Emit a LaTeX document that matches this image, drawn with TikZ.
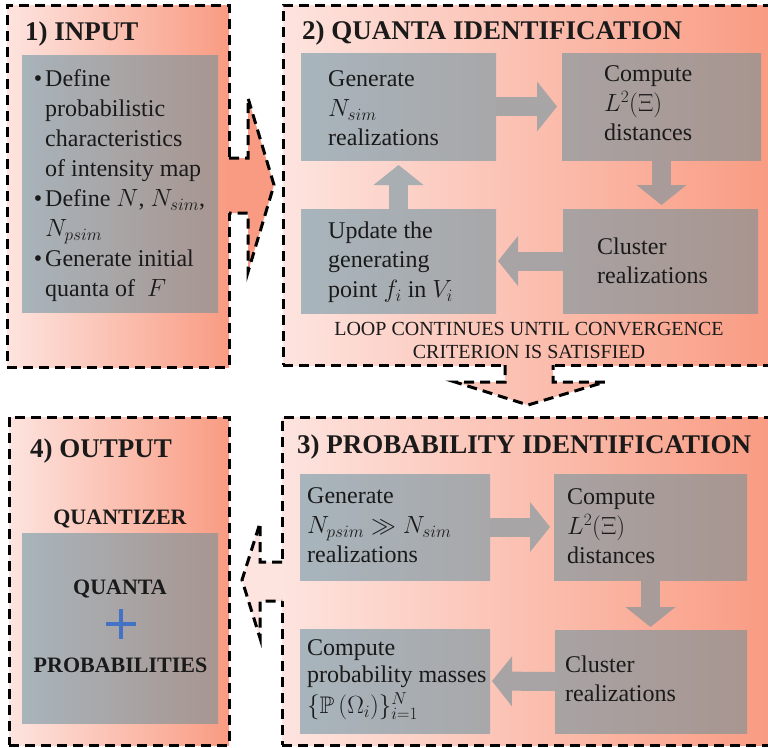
\documentclass[tikz,border=0pt]{standalone}
\usepackage{fontspec}
\usepackage{amssymb}
\setmainfont{Liberation Serif}
\usetikzlibrary{arrows.meta}
\definecolor{pL}{RGB}{253,228,223}
\definecolor{pR}{RGB}{249,155,130}
\definecolor{gL}{RGB}{168,182,190}
\definecolor{gR}{RGB}{168,148,142}
\definecolor{plusblue}{RGB}{68,114,196}
\definecolor{ink}{RGB}{26,26,26}
\tikzset{
  panel/.style={draw=black, line width=3pt, dash pattern=on 10pt off 6pt,
    left color=pL, right color=pR, inner sep=0pt, outer sep=0pt, anchor=north west},
  gbox/.style={draw=none, inner sep=0pt, outer sep=0pt, anchor=north west},
  btext/.style={anchor=west, align=left, inner sep=0pt,
    font=\fontsize{24}{29.5}\selectfont, text=ink},
  ttl/.style={anchor=base west, inner sep=0pt,
    font=\fontsize{27}{32}\selectfont\bfseries, text=ink},
  otext/.style={anchor=base, inner sep=0pt,
    font=\fontsize{22}{26}\selectfont\bfseries, text=ink},
  looptext/.style={anchor=base, inner sep=0pt,
    font=\fontsize{20}{23}\selectfont, text=ink},
  garrow/.style={line width=19pt,
    -{Triangle[length=20pt, width=50pt, line width=0pt]}},
  bigoutline/.style={draw=black, line width=3pt, dash pattern=on 10pt off 6pt,
    line join=miter},
}
\begin{document}
\begin{tikzpicture}[x=1pt, y=-1pt]
\useasboundingbox (0,0) rectangle (768,747);
% panels
\node[panel, minimum width=222pt, minimum height=362pt] (p1) at (7,5) {};
\node[panel, minimum width=489pt, minimum height=360pt] (p2) at (283,5) {};
\node[panel, minimum width=490pt, minimum height=328pt] (p3) at (282,417) {};
\node[panel, minimum width=220pt, minimum height=328pt] (p4) at (9,417) {};
% block arrows between panels
\fill[pR] (226,158) -- (248,158) -- (248,98) -- (274,185) -- (248,272)
  -- (248,213) -- (226,213) -- cycle;
\draw[bigoutline] (229,158) -- (248,158) -- (248,98) -- (274,185) -- (248,272)
  -- (248,213) -- (229,213);
\shade[left color=pR!35!pL, right color=pR!66!pL] (505,363) -- (505,382) -- (455,382)
  -- (528,405) -- (605,382) -- (553,382) -- (553,363) -- cycle;
\draw[bigoutline] (505,365) -- (505,382) -- (455,382) -- (528,405) -- (605,382)
  -- (553,382) -- (553,365);
\fill[pL] (285,562) -- (260,562) -- (260,523) -- (242,580) -- (260,638)
  -- (260,601) -- (285,601) -- cycle;
\draw[bigoutline] (282,562) -- (260,562) -- (260,523) -- (242,580) -- (260,638)
  -- (260,601) -- (282,601);
% titles
\node[ttl] (t1) at (25,40) {1) INPUT};
\node[ttl] (t2) at (302,39) {2) QUANTA IDENTIFICATION};
\node[ttl] (t3) at (297,453) {3) PROBABILITY IDENTIFICATION};
\node[ttl] (t4) at (30,457) {4) OUTPUT};
% panel 1 box
\node[gbox, left color=gR!7!gL, right color=gR!95!gL,
  minimum width=196pt, minimum height=257pt] (b1) at (22,55) {};
\node[btext, font=\fontsize{24}{30}\selectfont] (b1t) at (45,186) {%
  \llap{\textbullet\hspace{3pt}}Define\\
  probabilistic\\
  characteristics\\
  of intensity map\\
  \llap{\textbullet\hspace{3pt}}Define $N$, $N_{sim}$,\\
  $N_{psim}$\\
  \llap{\textbullet\hspace{3pt}}Generate initial\\
  quanta of \ $F$};
% panel 2 boxes
\node[gbox, left color=gR!4!gL, right color=gR!44!gL,
  minimum width=195pt, minimum height=107pt] (g2a) at (301,53) {};
\node[gbox, left color=gR!57!gL, right color=gR!98!gL,
  minimum width=199pt, minimum height=107pt] (g2b) at (562,53) {};
\node[gbox, left color=gR!4!gL, right color=gR!44!gL,
  minimum width=195pt, minimum height=104pt] (g2c) at (301,209) {};
\node[gbox, left color=gR!57!gL, right color=gR!98!gL,
  minimum width=195pt, minimum height=104pt] (g2d) at (563,209) {};
\node[btext] (g2at) at (328,108.5) {Generate\\$N_{sim}$\\realizations};
\node[btext] (g2bt) at (604,103.5) {Compute\\$L^2(\Xi)$\\distances};
\node[btext] (g2ct) at (328,262) {Update the\\generating\\point $f_i$ in $V_i$};
\node[btext] (g2dt) at (597,261) {Cluster\\realizations};
\draw[garrow, draw=gR!50!gL, shorten >=5pt] (g2a.east) -- (g2b.west);
\draw[garrow, draw=gR!78!gL, shorten >=4pt] (g2b.south) -- (g2b.south |- g2d.north);
\draw[garrow, draw=gR!55!gL, shorten >=2pt] (g2d.west) -- (g2c.east);
\draw[garrow, draw=gR!24!gL, shorten >=5pt] (g2c.north) -- (g2c.north |- g2a.south);
\node[looptext] (loop1) at (529,335) {LOOP CONTINUES UNTIL CONVERGENCE};
\node[looptext] (loop2) at (529,358) {CRITERION IS SATISFIED};
% panel 3 boxes
\node[gbox, left color=gR!4!gL, right color=gR!42!gL,
  minimum width=190pt, minimum height=106pt] (g3a) at (300,474) {};
\node[gbox, left color=gR!56!gL, right color=gR!95!gL,
  minimum width=193pt, minimum height=106pt] (g3b) at (554,474) {};
\node[gbox, left color=gR!4!gL, right color=gR!42!gL,
  minimum width=190pt, minimum height=104pt] (g3c) at (300,629) {};
\node[gbox, left color=gR!56!gL, right color=gR!95!gL,
  minimum width=192pt, minimum height=103pt] (g3d) at (555,630) {};
\node[btext] (g3at) at (307,525.5) {Generate\\$N_{psim}\gg N_{sim}$\\realizations};
\node[btext] (g3bt) at (567,526.5) {Compute\\$L^2(\Xi)$\\distances};
\node[btext, font=\fontsize{24}{27}\selectfont] (g3ct) at (307,680) {Compute\\probability masses\\[4pt]$\{\mathbb{P}\left(\Omega_i\right)\}_{i=1}^{N}$};
\node[btext] (g3dt) at (565,679) {Cluster\\realizations};
\draw[garrow, draw=gR!50!gL, shorten >=4pt] (g3a.east) -- (g3b.west);
\draw[garrow, draw=gR!76!gL, shorten >=3pt] (g3b.south) -- (g3b.south |- g3d.north);
\draw[garrow, draw=gR!55!gL, shorten >=2pt] (g3d.west) -- (g3c.east);
% panel 4
\node[otext] (q1) at (120,524) {QUANTIZER};
\node[gbox, left color=gR!6!gL, right color=gR!95!gL,
  minimum width=196pt, minimum height=190pt] (b4) at (22,533) {};
\node[otext] (q2) at (120,594) {QUANTA};
\node[otext] (q3) at (120.5,672) {PROBABILITIES};
\coordinate (plusc) at (121,624);
\draw[plusblue, line width=4pt] ([xshift=-15pt]plusc) -- ([xshift=15pt]plusc)
  ([yshift=-15pt]plusc) -- ([yshift=15pt]plusc);
\end{tikzpicture}
\end{document}
